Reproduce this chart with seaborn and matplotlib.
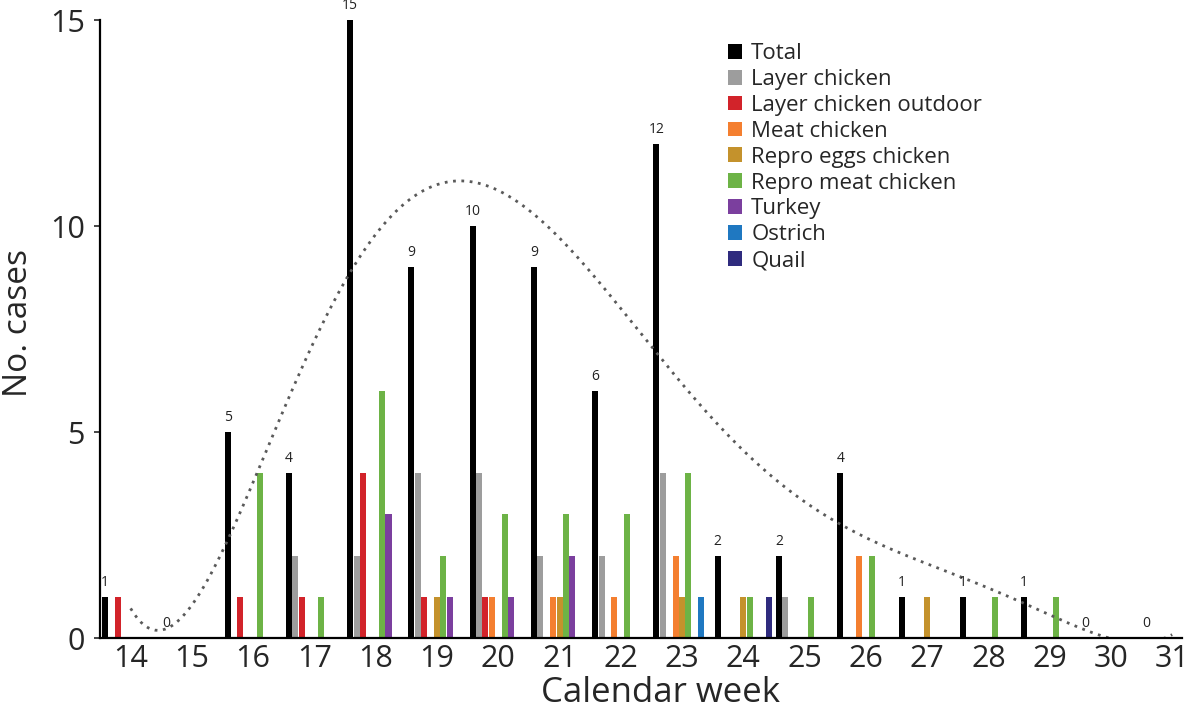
import numpy as np
import pandas as pd
import matplotlib
matplotlib.use("Agg")
import matplotlib.pyplot as plt
import seaborn as sns

weeks = list(range(14, 32))
series_names = ["Total", "Layer chicken", "Layer chicken outdoor", "Meat chicken",
                "Repro eggs chicken", "Repro meat chicken", "Turkey", "Ostrich", "Quail"]
#                 14 15 16 17 18 19 20 21 22 23 24 25 26 27 28 29 30 31
total          = [1, 0, 5, 4, 15, 9, 10, 9, 6, 12, 2, 2, 4, 1, 1, 1, 0, 0]
layer          = [0, 0, 0, 2, 2, 4, 4, 2, 2, 4, 0, 1, 0, 0, 0, 0, 0, 0]
layer_outdoor  = [1, 0, 1, 1, 4, 1, 1, 0, 0, 0, 0, 0, 0, 0, 0, 0, 0, 0]
meat           = [0, 0, 0, 0, 0, 0, 1, 1, 1, 2, 0, 0, 2, 0, 0, 0, 0, 0]
repro_eggs     = [0, 0, 0, 0, 0, 1, 0, 1, 0, 1, 1, 0, 0, 1, 0, 0, 0, 0]
repro_meat     = [0, 0, 4, 1, 6, 2, 3, 3, 3, 4, 1, 1, 2, 0, 1, 1, 0, 0]
turkey         = [0, 0, 0, 0, 3, 1, 1, 2, 0, 0, 0, 0, 0, 0, 0, 0, 0, 0]
ostrich        = [0, 0, 0, 0, 0, 0, 0, 0, 0, 1, 0, 0, 0, 0, 0, 0, 0, 0]
quail          = [0, 0, 0, 0, 0, 0, 0, 0, 0, 0, 1, 0, 0, 0, 0, 0, 0, 0]

colors = ["#000000", "#9d9d9d", "#d2232a", "#f47f30", "#c4922c",
          "#6db346", "#7b3f9e", "#1f78c1", "#2f2b7e"]

series_values = [total, layer, layer_outdoor, meat, repro_eggs,
                 repro_meat, turkey, ostrich, quail]
df = pd.DataFrame([
    {"week": w, "type": name, "cases": v}
    for name, vals in zip(series_names, series_values)
    for w, v in zip(weeks, vals)
])

sns.set_style("white")
plt.rcParams["font.family"] = ["Open Sans", "DejaVu Sans"]

fig = plt.figure(figsize=(11.98, 7.12), dpi=100)
ax = fig.add_axes([100 / 1198, 74 / 712, 1082 / 1198, 618 / 712])

sns.barplot(data=df, x="week", y="cases", hue="type", order=weeks,
            hue_order=series_names, palette=colors, width=0.94, gap=0.06,
            saturation=1, errorbar=None, linewidth=0, ax=ax)

# value labels above the Total bars
ax.bar_label(ax.containers[0], labels=[str(v) for v in total],
             padding=5, fontsize=10, color="#222222")

# polynomial trendline through totals (Excel-style, order 6)
xi = np.arange(len(weeks))
coef = np.polyfit(xi, total, 6)
xs = np.linspace(0, len(weeks) - 1, 300)
ax.plot(xs, np.polyval(coef, xs), linestyle=(0, (1, 2)), color="#5a5a5a", lw=2)

ax.set_xlim(-0.5, len(weeks) - 0.84)
ax.set_ylim(0, 15)
ax.set_yticks([0, 5, 10, 15])
ax.tick_params(axis="y", labelsize=22, length=4, width=1.2, direction="out",
               left=True, pad=7)
ax.tick_params(axis="x", labelsize=22, length=0, pad=4)
sns.despine(ax=ax)
for s in ["left", "bottom"]:
    ax.spines[s].set_color("black")
    ax.spines[s].set_linewidth(1.6)

ax.set_xlabel("Calendar week", fontsize=25, va="baseline")
ax.set_ylabel("No. cases", fontsize=24, va="bottom")
ax.xaxis.set_label_coords(0.518, -0.104)
ax.yaxis.set_label_coords(-0.060, 0.51)

ax.legend(loc="upper left", bbox_to_anchor=(0.572, 0.977), frameon=False,
          fontsize=16, handlelength=0.65, handleheight=0.65, handletextpad=0.4,
          labelspacing=0.22, borderaxespad=0)

fig.savefig("out.png", dpi=100)
